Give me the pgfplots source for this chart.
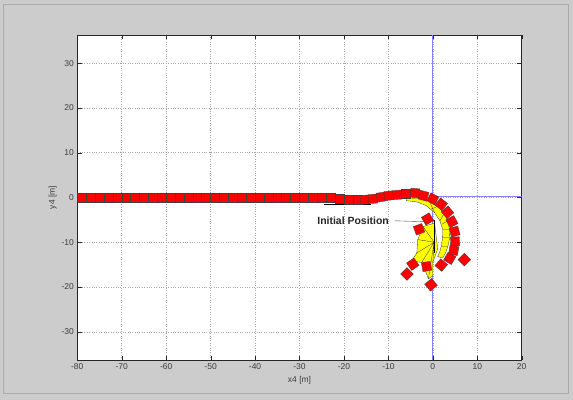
\documentclass[border=0pt]{standalone}
\usepackage{fontspec}
\setmainfont{Liberation Sans}
\usepackage{pgfplots}
\pgfplotsset{compat=1.18}
\definecolor{figbg}{RGB}{204,204,204}
\definecolor{figedge}{RGB}{170,170,170}
\definecolor{mblue}{RGB}{130,130,255}
\definecolor{gridc}{RGB}{165,165,165}
\definecolor{tickc}{RGB}{60,60,60}
\definecolor{vyellow}{RGB}{255,255,0}
\pgfplotstableread{
x y r
-79 0 0
-77 0 0
-75 0 0
-73 0 0
-71 0 0
-69 0 0
-67 0 0
-65 0 0
-63 0 0
-61 0 0
-59 0 0
-57 0 0
-55 0 0
-53 0 0
-51 0 0
-49 0 0
-47 0 0
-45 0 0
-43 0 0
-41 0 0
-39 0 0
-37 0 0
-35 0 0
-33 0 0
-31 0 0
-29 0 0
-27 0 0
-25 0 0
-23 0 0
-21 -0.2 0
-19 -0.4 0
-17 -0.5 0
-15.3 -0.5 3
-13.5 -0.3 5
-11.6 0.1 8
-9.9 0.4 6
-7.9 0.6 4
-6.0 0.8 0
-4.0 1.0 -5
-2.1 0.4 -15
0.0 -0.3 -28
1.9 -1.5 -38
3.3 -3.3 -50
4.3 -5.4 -62
4.9 -7.6 -75
5.0 -9.8 -88
4.7 -11.8 -10
3.8 -13.6 -30
1.9 -15.1 -40
7.1 -13.9 45
-1.2 -4.8 30
-3.1 -7.1 20
-4.5 -14.9 35
-5.8 -17.1 45
-1.4 -15.4 10
-0.4 -19.5 40
}\squares
\begin{document}
\begin{tikzpicture}
\fill[figbg] (-77.3bp,-40bp) rectangle (495.7bp,360bp);
\draw[figedge, line width=1bp] (-73.3bp,-33bp) rectangle (490.7bp,355bp);
\begin{axis}[
  at={(0,0)}, anchor=south west,
  scale only axis, width=444.4bp, height=325bp,
  xmin=-80, xmax=20, ymin=-36.3, ymax=36.3,
  xtick={-80,-70,...,20}, ytick={-30,-20,...,30},
  grid=major,
  major grid style={gridc, dotted, line width=0.5bp},
  tick align=inside,
  axis line style={black!85, line width=0.6bp},
  tick style={black!85},
  ticklabel style={font=\fontsize{8.5}{9}\selectfont, text=tickc},
  /pgf/number format/assume math mode=true,
  xlabel={x4 [m]}, ylabel={y4 [m]},
  label style={font=\fontsize{8.5}{9}\selectfont, text=tickc},
  ylabel style={yshift=-2bp},
  axis background/.style={fill=white},
  clip=false,
]
% reference lines
\addplot[mblue, line width=0.9bp] coordinates {(0,-36.3) (0,36.3)};
% vehicle body outline under straight part
\addplot[black, line width=0.8bp] coordinates {(-24.4,-1.5) (-13.8,-1.5)};
% yellow crescent
\addplot[fill=vyellow, draw=black!80, line width=0.3bp] coordinates {
(-6,-0.1) (-3,-0.2) (-0.75,-0.9) (1,-2) (2.6,-3.5) (3.4,-5.2) (3.75,-7.2)
(3.8,-9) (3.4,-10.9) (2.9,-12.3) (2.25,-13.5) (1.1,-13.2) (1.6,-12)
(1.9,-10.9) (2.2,-9) (2.25,-7.2) (1.6,-5.2) (0.4,-3.4) (-1.5,-1.8)
(-3.5,-1.0) (-6,-0.7) (-6,-0.1)};
\addplot[black!80, line width=0.3bp, unbounded coords=jump] coordinates {
(-0.75,-0.9) (0.4,-3.4) (nan,nan)
(2.6,-3.5) (1.6,-5.2) (nan,nan)
(3.75,-7.2) (2.25,-7.2) (nan,nan)
(3.4,-10.9) (1.9,-10.9) (nan,nan)
(1,-2) (-0.4,-2.6) (nan,nan)
(3.4,-5.2) (2,-6) (nan,nan)
(3.8,-9) (2.2,-9)};
% yellow fan
\addplot[fill=vyellow, draw=black!80, line width=0.3bp] coordinates {
(0.4,-5.7) (-2.2,-6.5) (-3.4,-9.4) (-3.6,-12.4) (-4.8,-14.2) (-2.5,-14.5)
(-1.6,-16.5) (-1.0,-18.2) (0,-17.5) (0,-14.5) (1.1,-11.5) (0.4,-5.7)};
\addplot[black!80, line width=0.3bp, unbounded coords=jump] coordinates {
(0.3,-10) (-2.2,-6.5) (nan,nan)
(0.3,-10) (-3.4,-9.4) (nan,nan)
(0.3,-10) (-3.6,-12.4) (nan,nan)
(0.3,-10) (-2.5,-14.5) (nan,nan)
(0.3,-10) (-1.0,-18.2) (nan,nan)
(0.3,-10) (0,-14.5)};
\addplot[black, line width=0.8bp] coordinates {(0.4,-5) (0.4,-12.3)};
% red squares
\addplot[scatter, only marks, mark=square*, mark size=4.5bp,
  scatter/use mapped color={draw=black!75, fill=red},
  mark options={line width=0.35bp},
  visualization depends on={\thisrow{r} \as \rot},
  scatter/@pre marker code/.append style={/tikz/rotate=\rot}]
  table[x=x, y=y] {\squares};
% blue horizontal reference line (over the straight part and right of the origin)
\addplot[mblue, line width=0.8bp] coordinates {(-80,0) (-13,0)};
\addplot[mblue, line width=1bp] coordinates {(1,0.12) (20,0.12)};
% annotation
\node[font=\bfseries\fontsize{10.5}{11}\selectfont, text=black!85, anchor=east]
  at (axis cs:-9.1,-5.3) {Initial Position};
\addplot[black!70, line width=0.4bp] coordinates {(-8.6,-5.2) (-2.0,-5.4)};
\end{axis}
\end{tikzpicture}
\end{document}
